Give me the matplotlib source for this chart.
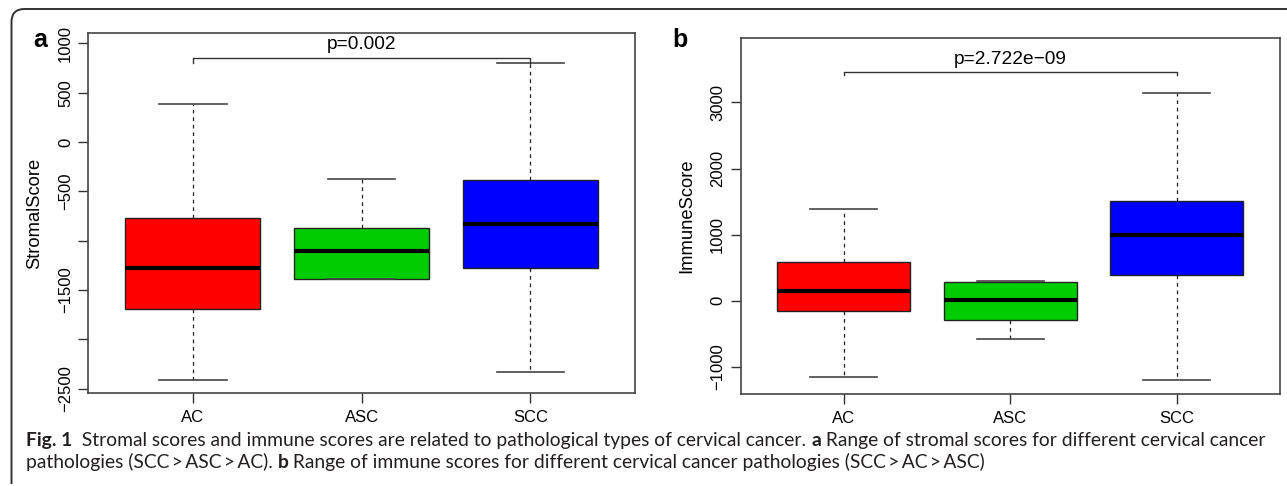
import matplotlib
matplotlib.use("Agg")
import matplotlib.pyplot as plt
from matplotlib.path import Path
from matplotlib.patches import PathPatch
from matplotlib.text import Annotation

# ---- data ----
groups = ["AC", "ASC", "SCC"]
box_colors = ["#FF0000", "#00CD00", "#0000FF"]

# panel a: StromalScore
stromal_whislo = [-2415, -1388, -2327]
stromal_q1 = [-1693, -1388, -1276]
stromal_med = [-1276, -1100, -836]
stromal_q3 = [-768, -870, -389]
stromal_whishi = [383, -379, 803]
stromal_p = "p=0.002"
stromal_p_y = 990
stromal_bracket = 848
stromal_ticks = [1000, 500, 0, -500, -1000, -1500, -2000, -2500]
stromal_ticklabels = ["1000", "500", "0", "\u2212500", "", "\u22121500", "", "\u22122500"]
stromal_ylim = (-2547, 1102)

# panel b: ImmuneScore
immune_whislo = [-1150, -584, -1204]
immune_q1 = [-151, -292, 389]
immune_med = [147, 6, 989]
immune_q3 = [590, 288, 1513]
immune_whishi = [1387, 298, 3138]
immune_p = "p=2.722e\u221209"
immune_p_y = 3652
immune_bracket = 3460
immune_ticks = [3000, 2000, 1000, 0, -1000]
immune_ticklabels = ["3000", "2000", "1000", "0", "\u22121000"]
immune_ylim = (-1411, 3970)

W, H = 1287, 486
plt.rcParams["font.family"] = ["Liberation Sans", "DejaVu Sans"]
fig = plt.figure(figsize=(W / 100, H / 100), dpi=100)


def fx(px):
    return px / W


def fy(py):
    return 1 - py / H


def draw_panel(ax, whislo, q1, med, q3, whishi, ylabel, ticks, ticklabels, ylim, ptext, p_y, bracket, btick):
    stats = []
    for i, g in enumerate(groups):
        stats.append(dict(label=g, whislo=whislo[i], q1=q1[i], med=med[i], q3=q3[i], whishi=whishi[i], fliers=[]))
    bp = ax.bxp(
        stats,
        widths=0.8,
        patch_artist=True,
        showfliers=False,
        boxprops=dict(edgecolor="#222222", linewidth=1.0),
        medianprops=dict(color="black", linewidth=3.0, solid_capstyle="butt"),
        whiskerprops=dict(color="#222222", linewidth=0.9, linestyle=(0, (3, 3))),
        capprops=dict(color="#444444", linewidth=1.2),
        capwidths=0.4,
    )
    for patch, c in zip(bp["boxes"], box_colors):
        patch.set_facecolor(c)
    ax.set_xlim(0.38, 3.62)
    ax.set_ylim(*ylim)
    ax.set_yticks(ticks)
    ax.set_yticklabels(ticklabels, rotation=90, va="center")
    ax.set_ylabel(ylabel, fontsize=13.2, labelpad=11)
    ax.tick_params(axis="both", labelsize=12, length=7, width=1, color="#333333")
    ax.tick_params(axis="y", pad=4)
    ax.tick_params(axis="x", pad=5)
    for s in ax.spines.values():
        s.set_color("#444444")
        s.set_linewidth(1.2)
    # significance bracket
    ax.plot([1, 1, 3, 3], [bracket - btick, bracket, bracket, bracket - btick], color="#333333", linewidth=1)
    ax.text(2, p_y, ptext, ha="center", va="center", fontsize=13.8)


ax_a = fig.add_axes([fx(88.3), fy(393.3), fx(635 - 88.3), (393.3 - 33.3) / H])
draw_panel(ax_a, stromal_whislo, stromal_q1, stromal_med, stromal_q3, stromal_whishi, "StromalScore",
           stromal_ticks, stromal_ticklabels, stromal_ylim, stromal_p, stromal_p_y, stromal_bracket, 50)
ax_b = fig.add_axes([fx(740.5), fy(394), fx(1280 - 740.5), (394 - 38.3) / H])
draw_panel(ax_b, immune_whislo, immune_q1, immune_med, immune_q3, immune_whishi, "ImmuneScore",
           immune_ticks, immune_ticklabels, immune_ylim, immune_p, immune_p_y, immune_bracket, 50)

# panel letters
fig.text(fx(40), fy(40), "a", fontsize=18, fontweight="bold", ha="center", va="center")
fig.text(fx(680), fy(40), "b", fontsize=18, fontweight="bold", ha="center", va="center")

# frame with rounded top-left corner
r = 13
verts = [(fx(11.5), fy(484)), (fx(11.5), fy(9 + r)), (fx(11.5), fy(9)), (fx(11.5 + r), fy(9)), (fx(W + 5), fy(9))]
codes = [Path.MOVETO, Path.LINETO, Path.CURVE3, Path.CURVE3, Path.LINETO]
fig.patches.append(PathPatch(Path(verts, codes), transform=fig.transFigure, fill=False,
                             edgecolor="#333333", linewidth=1.4))

# caption, bold pieces chained after each other
cap_font = ["Lato", "DejaVu Sans"]
cap_size = 13.9
cap_color = "#231f20"
line1 = [("Fig. 1", "bold"),
         ("  Stromal scores and immune scores are related to pathological types of cervical cancer. ", "normal"),
         ("a", "bold"), (" Range of stromal scores for different cervical cancer", "normal")]
line2 = [("pathologies (SCC\u2009>\u2009ASC\u2009>\u2009AC). ", "normal"), ("b", "bold"),
         (" Range of immune scores for different cervical cancer pathologies (SCC\u2009>\u2009AC\u2009>\u2009ASC)", "normal")]
for y, pieces in [(446, line1), (468, line2)]:
    prev = None
    for txt, wt in pieces:
        if prev is None:
            prev = fig.text(fx(26), fy(y), txt, fontsize=cap_size, fontweight=wt, family=cap_font,
                            va="baseline", ha="left", color=cap_color)
        else:
            ann = Annotation(txt, xy=(1, 0), xycoords=prev, xytext=(0, 0), textcoords="offset points",
                             fontsize=cap_size, fontweight=wt, family=cap_font, va="bottom", ha="left",
                             color=cap_color)
            fig.add_artist(ann)
            prev = ann

fig.savefig("out.png", dpi=100)
